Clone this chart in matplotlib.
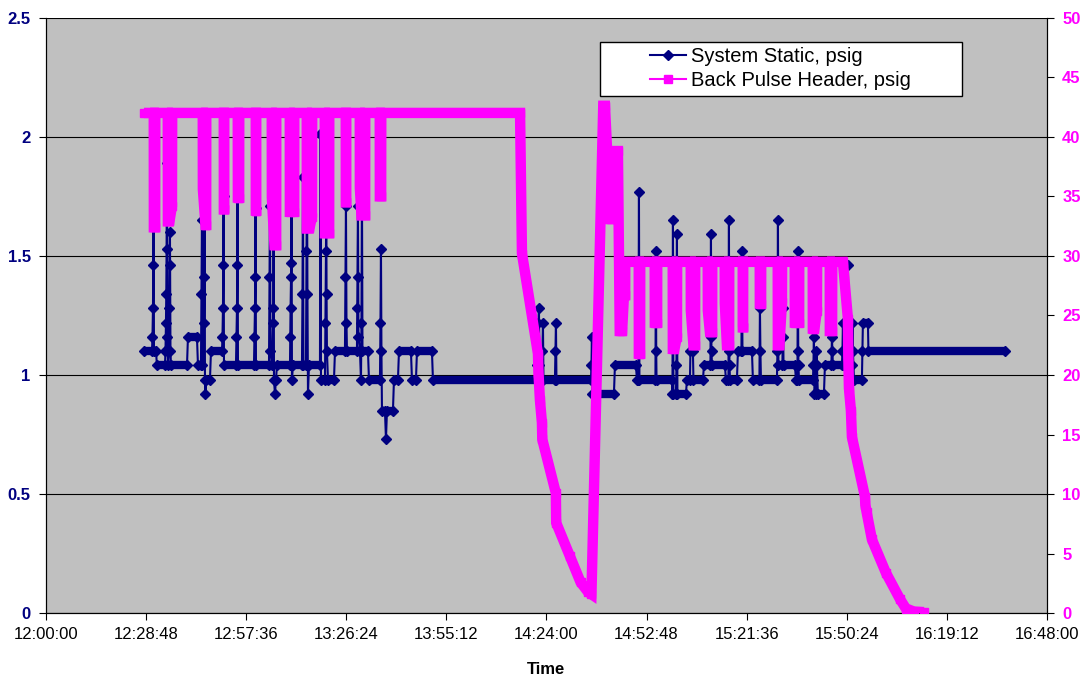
import numpy as np
import matplotlib
matplotlib.use("Agg")
import matplotlib.pyplot as plt
from matplotlib.collections import LineCollection
from matplotlib.lines import Line2D
from matplotlib.patches import Rectangle

plt.rcParams['font.family'] = ['Liberation Sans', 'DejaVu Sans']

# time is minutes after 12:00:00
static_min = [
    28.19, 30.50, 30.64, 30.78, 30.87, 30.96, 31.07, 31.65, 31.93,
    34.24, 34.38, 34.52, 34.61, 34.70, 34.81, 34.96, 35.10, 35.39, 35.47, 35.56, 35.67, 35.82, 35.96,
    40.57, 40.85, 43.44, 43.73,
    44.59, 44.74, 44.88, 45.03, 45.46, 45.54, 45.63, 45.74, 45.89, 46.03, 47.18, 47.47,
    50.64, 50.78, 50.92, 51.01, 51.10, 51.21,
    54.66, 54.81, 54.95, 55.04, 55.12, 55.24,
    59.84, 59.99, 60.13, 60.22, 60.30, 60.42,
    64.16, 64.30, 64.44, 64.59, 65.02, 65.31, 65.40, 65.48, 65.60, 65.88, 66.17, 66.46,
    70.20, 70.28, 70.37, 70.49, 70.57, 70.66, 70.77, 71.06,
    73.65, 73.80, 73.94, 74.08, 74.80, 74.95, 75.09, 75.23, 75.38, 75.67,
    78.83, 78.98, 79.12, 80.27, 80.41, 80.56, 80.64, 80.73, 80.84, 81.13, 82.86, 83.15,
    86.02, 86.17, 86.31, 86.46, 86.60,
    89.47, 89.56, 89.65, 89.76, 89.91, 90.34, 90.63, 90.77, 90.91, 91.06, 92.64, 92.93,
    96.09, 96.24, 96.38, 96.52, 96.67, 97.53, 97.82, 98.11, 99.83, 100.12,
    101.27, 101.56, 105.01, 105.30, 106.45, 106.74, 111.05, 111.34,
    141.26, 141.41, 141.55, 141.69, 141.84, 141.98, 142.12, 142.70, 142.84, 142.99, 143.13,
    146.44, 146.58, 146.73, 146.87,
    156.80, 156.94, 157.08, 157.23, 163.41, 163.70,
    169.74, 170.03, 170.46, 170.61, 170.75,
    175.35, 175.50, 175.58, 175.67,
    180.10, 180.25, 180.39, 180.53, 181.25, 181.40, 181.54, 181.68, 184.13, 184.42,
    185.28, 185.43, 186.14, 186.29, 189.02, 189.31,
    191.18, 191.33, 191.41, 191.50, 191.61, 195.35, 195.64,
    196.36, 196.50, 196.59, 196.68, 196.79, 198.80, 199.09,
    200.10, 200.24, 200.39, 203.12, 203.40,
    205.27, 205.42, 205.56, 205.71,
    210.31, 210.46, 210.60, 210.74, 211.89, 212.04, 212.12, 212.21, 215.49, 215.78,
    216.21, 216.35, 216.44, 216.52, 216.64, 220.67, 220.81, 220.95, 221.10, 221.53, 221.67,
    221.82, 222.10, 223.83, 224.12,
    225.99, 226.13, 226.28, 226.42, 229.01, 229.16, 229.30, 229.44,
    230.59, 230.74, 230.88, 231.03, 231.89, 232.04, 232.18, 232.47, 234.76, 234.91, 235.05,
    236.49, 236.64, 275.90,
]
static_psig = [
    1.10, 1.10, 1.16, 1.28, 1.46, 1.89, 1.10, 1.10, 1.04,
    1.04, 1.10, 1.22, 1.34, 1.53, 1.89, 1.16, 1.04, 1.10, 1.28, 1.46, 1.60, 1.10, 1.04,
    1.04, 1.16, 1.16, 1.04,
    1.04, 1.34, 1.65, 1.04, 1.22, 1.41, 1.90, 0.98, 0.92, 0.98, 0.98, 1.10,
    1.10, 1.16, 1.28, 1.46, 1.75, 1.04,
    1.04, 1.16, 1.28, 1.46, 1.78, 1.04,
    1.04, 1.16, 1.28, 1.41, 1.70, 1.04,
    1.04, 1.41, 1.71, 1.10, 1.04, 1.22, 1.28, 1.90, 0.98, 0.92, 0.98, 1.04,
    1.04, 1.16, 1.28, 1.41, 1.47, 1.80, 0.98, 1.04,
    1.04, 1.34, 1.83, 1.04, 1.04, 1.52, 1.88, 1.34, 0.92, 1.04,
    1.04, 2.01, 0.98, 0.98, 1.22, 1.52, 1.75, 1.34, 1.10, 0.98, 0.98, 1.10,
    1.10, 1.41, 1.71, 1.22, 1.10,
    1.10, 1.28, 1.41, 1.71, 1.16, 1.10, 0.98, 1.22, 1.80, 1.10, 1.10, 0.98,
    0.98, 1.22, 1.53, 1.10, 0.85, 0.85, 0.73, 0.85, 0.85, 0.98,
    0.98, 1.10, 1.10, 0.98, 0.98, 1.10, 1.10, 0.98,
    0.98, 1.04, 1.10, 1.22, 1.28, 1.04, 0.98, 0.98, 1.10, 1.22, 0.98,
    0.98, 1.10, 1.22, 0.98,
    0.98, 1.04, 1.16, 0.92, 0.92, 1.04,
    1.04, 0.98, 0.98, 1.77, 0.98,
    0.98, 1.52, 1.10, 0.98,
    0.98, 0.92, 1.65, 0.92, 0.92, 1.04, 1.59, 0.92, 0.92, 0.98,
    0.98, 1.10, 1.10, 0.98, 0.98, 1.04,
    1.04, 1.59, 1.16, 1.10, 1.04, 1.04, 0.98,
    0.98, 1.65, 1.10, 1.04, 0.98, 0.98, 1.10,
    1.10, 1.52, 1.10, 1.10, 0.98,
    0.98, 1.28, 1.10, 0.98,
    0.98, 1.10, 1.65, 1.04, 1.04, 1.28, 1.16, 1.04, 1.04, 0.98,
    0.98, 1.52, 1.10, 1.04, 0.98, 0.98, 1.04, 1.16, 0.92, 0.92, 1.10,
    1.04, 0.92, 0.92, 1.04,
    1.04, 1.16, 1.10, 1.04, 1.04, 1.10, 1.22, 1.04,
    1.16, 1.46, 1.22, 1.04, 1.04, 1.22, 1.10, 0.98, 0.98, 1.10, 1.22,
    1.22, 1.10, 1.10,
]

header_min = [
    28.19,
    31.01, 31.04, 31.42, 31.45,
    35.04, 35.07, 35.53, 36.25, 36.31,
    45.11, 45.14, 45.89, 46.09, 46.12,
    51.15, 51.18, 51.27, 51.30,
    55.18, 55.21, 55.58, 55.61,
    60.36, 60.39, 60.47, 60.50,
    64.96, 64.99, 65.74, 66.23, 66.26,
    70.14, 70.17, 71.41, 71.44,
    75.03, 75.06, 75.81, 76.53, 76.59,
    80.21, 80.24, 81.48, 81.51,
    86.25, 86.28, 86.37, 86.40,
    90.28, 90.31, 90.77, 91.83, 91.86,
    96.03, 96.06, 96.44, 96.47,
    136.40, 136.95, 141.55, 141.70, 142.12, 142.70, 142.80, 146.70, 146.80,
    150.75, 153.83, 155.93, 156.94, 160.34, 160.83, 162.40, 162.55, 162.70,
    164.56, 165.08, 165.77, 166.29, 166.64, 166.67,
    170.55, 170.58, 170.95, 170.98,
    175.15, 175.18, 175.84, 175.87,
    180.33, 180.36, 180.82, 181.54, 181.60,
    185.51, 185.54, 186.29, 186.77, 186.80,
    190.40, 190.43, 191.03, 191.67, 191.70,
    195.29, 195.32, 195.92, 196.56, 196.59,
    200.47, 200.50, 200.58, 200.61,
    205.36, 205.39, 205.76, 205.79,
    210.54, 210.57, 211.03, 211.75, 211.80,
    215.43, 215.46, 216.70, 216.73,
    220.61, 220.64, 221.10, 221.82, 221.88,
    225.50, 225.53, 226.19, 226.22,
    229.30, 230.74, 230.85, 231.03, 231.60, 231.89, 235.63, 235.75, 236.11,
    237.64, 241.67, 245.70, 247.42, 249.72, 252.60,
]
header_psig = [
    42.0,
    42.0, 32.4, 32.4, 42.0,
    42.0, 32.9, 32.9, 34.2, 42.0,
    42.0, 35.6, 32.6, 32.6, 42.0,
    42.0, 33.9, 33.9, 42.0,
    42.0, 34.9, 34.9, 42.0,
    42.0, 33.8, 33.8, 42.0,
    42.0, 34.9, 30.9, 30.9, 42.0,
    42.0, 33.7, 33.7, 42.0,
    42.0, 32.3, 32.3, 33.3, 42.0,
    42.0, 31.9, 31.9, 42.0,
    42.0, 34.5, 34.5, 42.0,
    42.0, 35.7, 33.4, 33.4, 42.0,
    42.0, 35.0, 35.0, 42.0,
    42.0, 30.2, 21.8, 20.2, 17.9, 16.0, 14.6, 10.1, 7.6,
    4.8, 2.6, 1.8, 1.6, 42.6, 42.6, 33.1, 33.1, 38.8,
    38.8, 23.7, 23.7, 26.7, 26.7, 29.5,
    29.5, 21.8, 21.8, 29.5,
    29.5, 24.4, 24.4, 29.5,
    29.5, 22.2, 22.2, 23.2, 29.5,
    29.5, 25.4, 22.5, 22.5, 29.5,
    29.5, 25.4, 23.6, 23.6, 29.5,
    29.5, 26.0, 22.5, 22.5, 29.5,
    29.5, 24.0, 24.0, 29.5,
    29.5, 26.0, 26.0, 29.5,
    29.5, 22.5, 22.5, 26.1, 29.5,
    29.5, 24.4, 24.4, 29.5,
    29.5, 23.9, 23.9, 25.4, 29.5,
    29.5, 23.7, 23.7, 29.5,
    29.5, 24.7, 21.5, 18.9, 17.0, 14.8, 9.8, 9.1, 8.5,
    6.2, 3.4, 1.2, 0.4, 0.15, 0.1,
]

x_ticks = [0, 28.8, 57.6, 86.4, 115.2, 144, 172.8, 201.6, 230.4, 259.2, 288]
left_ticks = [0, 0.5, 1, 1.5, 2, 2.5]
right_ticks = [0, 5, 10, 15, 20, 25, 30, 35, 40, 45, 50]

NAVY = '#000080'
PINK = '#FF00FF'


def clock(m):
    s = int(round(12 * 3600 + m * 60))
    return f"{s // 3600}:{s % 3600 // 60:02d}:{s % 60:02d}"


fig = plt.figure(figsize=(10.82, 6.75), dpi=100)
ax = fig.add_axes([0.0425, 0.0914, 0.9251, 0.8825])
ax.set_facecolor('#C0C0C0')
ax2 = ax.twinx()

# system static: thin trace, flat runs look thick where samples pile up
t = np.array(static_min)
v = np.array(static_psig)
flat = np.where(np.isclose(v[1:], v[:-1]))[0]
segs = [[(t[i], v[i]), (t[i + 1], v[i + 1])] for i in flat]
ax.add_collection(LineCollection(segs, colors=NAVY, linewidths=6,
                                 capstyle='butt', zorder=2))
ax.plot(t, v, color=NAVY, lw=1.5, marker='D', ms=4.8, zorder=3)

# back pulse header on the secondary axis
ax2.plot(header_min, header_psig, color=PINK, lw=7.5, solid_joinstyle='miter',
         solid_capstyle='butt', marker='s', ms=5.5, zorder=3)

ax.set_xlim(0, 288)
ax.set_ylim(0, 2.5)
ax2.set_ylim(0, 50)

ax.set_xticks(x_ticks)
ax.set_xticklabels([clock(m) for m in x_ticks])
ax.set_yticks(left_ticks)
ax.set_yticklabels([f"{k:g}" for k in left_ticks], fontweight='bold', color=NAVY)
ax2.set_yticks(right_ticks)
ax2.set_yticklabels([f"{k:g}" for k in right_ticks], fontweight='bold', color=PINK)

ax.tick_params(axis='x', direction='out', length=5, labelsize=12, pad=5)
ax.tick_params(axis='y', direction='out', length=5, labelsize=12, pad=6)
ax2.tick_params(axis='y', direction='out', length=5, labelsize=12, pad=6)

ax.yaxis.grid(True, color='black', lw=0.8)
ax.set_axisbelow(True)
for a in (ax, ax2):
    a.spines['top'].set_visible(False)
    for side in ('left', 'bottom', 'right'):
        a.spines[side].set_color('black')

ax.set_xlabel('Time', fontweight='bold', fontsize=12, labelpad=14)

# legend box
box = Rectangle((0.553, 0.868), 0.362, 0.091, transform=ax2.transAxes,
                facecolor='white', edgecolor='black', lw=1, zorder=10)
ax2.add_patch(box)
handles = [Line2D([], [], color=NAVY, lw=1.5, marker='D', ms=5),
           Line2D([], [], color=PINK, lw=1.5, marker='s', ms=6)]
leg = ax2.legend(handles, ['System Static, psig', 'Back Pulse Header, psig'],
                 loc='center', bbox_to_anchor=(0.734, 0.914), frameon=False,
                 fontsize=14.5, handlelength=1.8, handletextpad=0.25,
                 labelspacing=0.25, borderaxespad=0)
leg.set_zorder(11)

fig.savefig('out.png', dpi=100)
